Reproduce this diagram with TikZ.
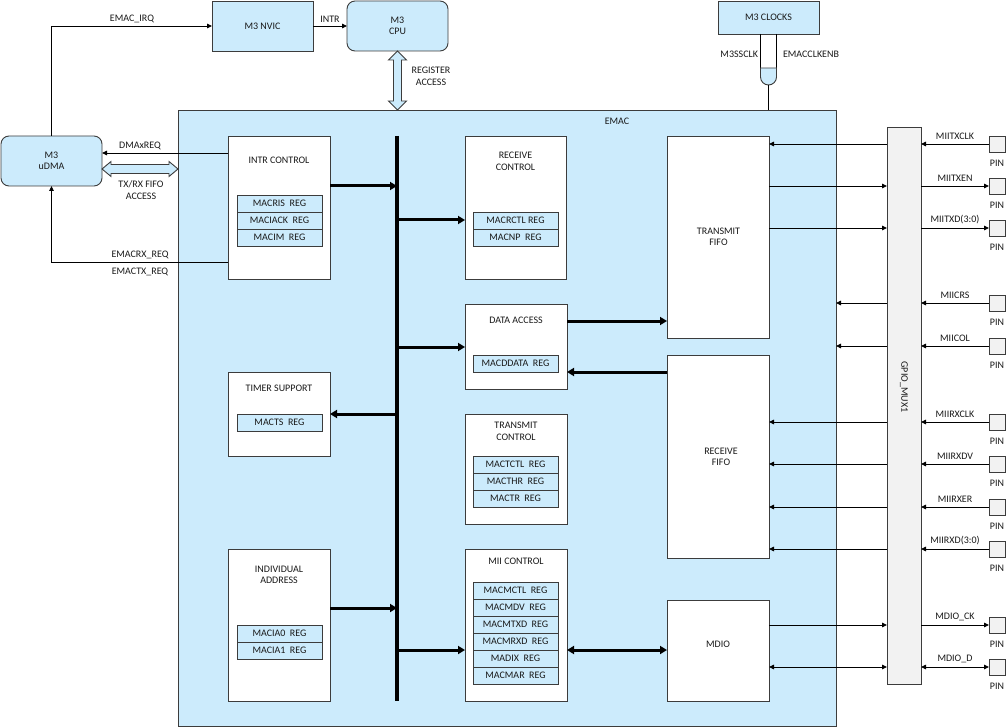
\documentclass[tikz,border=0pt]{standalone}
\usepackage{fontspec}
\setmainfont{Carlito}
\usetikzlibrary{arrows.meta,calc}
\definecolor{lb}{RGB}{204,235,252}
\definecolor{ln}{RGB}{60,60,60}
\definecolor{gr}{RGB}{242,242,242}
\begin{document}
\begin{tikzpicture}[x=1pt,y=-1pt,
  every node/.style={font=\fontsize{10}{11.5}\selectfont, inner sep=0pt, outer sep=0pt, align=center, text=black!90},
  box/.style={draw=ln, line width=0.9pt, fill=white},
  bbox/.style={draw=ln, line width=0.9pt, fill=lb},
  rbox/.style={draw=ln, line width=0.9pt, fill=lb, rounded corners=8pt},
  reg/.style={draw=ln, line width=0.9pt, fill=lb, minimum width=85, minimum height=17},
  pinbox/.style={draw=ln, line width=0.9pt, fill=gr, minimum width=16, minimum height=16},
  thk/.style={draw=black, line width=3pt, -{Triangle[length=7pt,width=8pt]}},
  thkd/.style={draw=black, line width=3pt, {Triangle[length=7pt,width=8pt]}-{Triangle[length=7pt,width=8pt]}},
  thn/.style={draw=black, line width=0.9pt, -{Triangle[length=5pt,width=4.5pt]}},
  thnd/.style={draw=black, line width=0.9pt, {Triangle[length=5pt,width=4.5pt]}-{Triangle[length=5pt,width=4.5pt]}},
  plain/.style={draw=black, line width=0.9pt},
  hol/.style={draw=ln, line width=0.9pt, fill=lb, line join=miter}
]
\useasboundingbox (0,0) rectangle (1006,727);

% outer blocks
\node[bbox, minimum width=101, minimum height=50] (nvic) at (262.5,26) {M3 NVIC};
\node[rbox, minimum width=101, minimum height=50] (cpu) at (397.5,26) {M3\\CPU};
\node[rbox, minimum width=101, minimum height=50] (udma) at (51.5,161) {M3\\uDMA};
\node[bbox, minimum width=101, minimum height=33] (clocks) at (768.5,17.5) {M3 CLOCKS};
\node[bbox, minimum width=658, minimum height=616] (emac) at (507,418) {};
\node (emaclbl) at (617,121) {EMAC};

% inner modules
\node[box, minimum width=102, minimum height=143] (intr) at (279,207.5) {};
\node (intrlbl) at (279,160) {INTR CONTROL};
\node[reg] (r1) at (279.5,203.5) {MACRIS~ REG};
\node[reg] (r2) at (279.5,220.5) {MACIACK~ REG};
\node[reg] (r3) at (279.5,237.5) {MACIM~ REG};

\node[box, minimum width=102, minimum height=84] (timer) at (279,414) {};
\node (timerlbl) at (279,388) {TIMER SUPPORT};
\node[reg] (r4) at (279.5,422.5) {MACTS~ REG};

\node[box, minimum width=102, minimum height=152] (indiv) at (279,625) {};
\node (indivlbl) at (279,575) {INDIVIDUAL\\ADDRESS};
\node[reg] (r5) at (279.5,633.5) {MACIA0~ REG};
\node[reg] (r6) at (279.5,650.5) {MACIA1~ REG};

\node[box, minimum width=101, minimum height=143] (rxctl) at (515.5,207.5) {};
\node (rxctllbl) at (515.5,161.5) {RECEIVE\\CONTROL};
\node[reg] (r7) at (515.5,220.5) {MACRCTL REG};
\node[reg] (r8) at (515.5,237.5) {MACNP~ REG};

\node[box, minimum width=102, minimum height=85] (dacc) at (516,346.5) {};
\node (dacclbl) at (516,320) {DATA ACCESS};
\node[reg] (r9) at (515.5,363.5) {MACDDATA~ REG};

\node[box, minimum width=102, minimum height=110] (txctl) at (516,469) {};
\node (txctllbl) at (516,431.5) {TRANSMIT\\CONTROL};
\node[reg] (r10) at (515.5,464.5) {MACTCTL~ REG};
\node[reg] (r11) at (515.5,481.5) {MACTHR~ REG};
\node[reg] (r12) at (515.5,498.5) {MACTR~ REG};

\node[box, minimum width=102, minimum height=152] (mii) at (516,625) {};
\node (miilbl) at (516,561) {MII CONTROL};
\node[reg] (r13) at (515.5,590.5) {MACMCTL~ REG};
\node[reg] (r14) at (515.5,607.5) {MACMDV~ REG};
\node[reg] (r15) at (515.5,624.5) {MACMTXD~ REG};
\node[reg] (r16) at (515.5,641.5) {MACMRXD~ REG};
\node[reg] (r17) at (515.5,658.5) {MADIX~ REG};
\node[reg] (r18) at (515.5,675.5) {MACMAR~ REG};

\node[box, minimum width=102, minimum height=202] (txfifo) at (718,237) {};
\node (txfifolbl) at (718.5,237) {TRANSMIT\\FIFO};
\node[box, minimum width=102, minimum height=203] (rxfifo) at (718,456.5) {};
\node (rxfifolbl) at (721,457) {RECEIVE\\FIFO};
\node[box, minimum width=102, minimum height=101] (mdio) at (718,650.5) {};
\node (mdiolbl) at (718,644) {MDIO};

% GPIO mux
\node[draw=ln, line width=0.9pt, fill=gr, minimum width=34, minimum height=557] (mux) at (904,405.5) {};
\node[rotate=-90] (muxlbl) at (904,387) {GPIO\_MUX1};

% bus
\coordinate (bustop) at (397,136);
\coordinate (busbot) at (397,701);
\draw[line width=3.5pt] (bustop) -- (busbot);

% thick arrows
\draw[thk] (intr.east |- 0,186) -- (bustop |- 0,186);
\draw[thk] (bustop |- 0,220) -- (rxctl.west |- 0,220);
\draw[thk] (bustop |- 0,347) -- (dacc.west |- 0,347);
\draw[thk] (bustop |- 0,414) -- (timer.east |- 0,414);
\draw[thk] (indiv.east |- 0,608) -- (bustop |- 0,608);
\draw[thk] (bustop |- 0,650) -- (mii.west |- 0,650);
\draw[thk] (dacc.east |- 0,321) -- (txfifo.west |- 0,321);
\draw[thk] (rxfifo.west |- 0,372) -- (dacc.east |- 0,372);
\draw[thkd] (mii.east |- 0,650) -- (mdio.west |- 0,650);

% top connections
\draw[thn] (udma.north) |- (nvic.west);
\node (irqlbl) at (132,19) {EMAC\_IRQ};
\draw[thn] (nvic.east) -- (cpu.west);
\node (intrsig) at (330,19) {INTR};

% register access hollow double arrow
\coordinate (ra1) at (cpu.south);
\coordinate (ra2) at (cpu.south |- emac.north);
\draw[hol] (ra1) -- ++(9,9) -- ++(-5,0) -- ($(ra2)+(4,-9)$) -- ++(5,0) -- (ra2)
  -- ++(-9,-9) -- ++(5,0) -- ($(ra1)+(-4,9)$) -- ++(-5,0) -- cycle;
\node (ralbl) at (431,76.5) {REGISTER\\ACCESS};

% uDMA connections
\draw[thn] (intr.west |- 0,153) -- (udma.east |- 0,153);
\node (dmalbl) at (140,146) {DMAxREQ};
\coordinate (fa1) at (udma.east |- 0,169);
\coordinate (fa2) at (emac.west |- 0,169);
\draw[hol] (fa1) -- ++(9,-7.5) -- ++(0,3) -- ($(fa2)+(-9,-4.5)$) -- ++(0,-3) -- (fa2)
  -- ++(-9,7.5) -- ++(0,-3) -- ($(fa1)+(9,4.5)$) -- ++(0,3) -- cycle;
\node (falbl) at (141,190) {TX/RX FIFO\\ACCESS};
\draw[thn] (intr.west |- 0,262) -| (udma.south);
\node (rxreq) at (140,255) {EMACRX\_REQ};
\node (txreq) at (140,272) {EMACTX\_REQ};

% clocks gate
\draw[plain] ($(clocks.south)+(-8,0)$) -- ++(0,34);
\draw[plain] ($(clocks.south)+(8,0)$) -- ++(0,34);
\draw[draw=ln, line width=0.9pt, fill=lb] (760.5,68) -- (776.5,68) -- (776.5,77)
  .. controls (776.5,81.4) and (772.9,85) .. (768.5,85)
  .. controls (764.1,85) and (760.5,81.4) .. (760.5,77) -- cycle;
\coordinate (gout) at (768.5,85);
\draw[plain] (gout) -- (clocks.south |- emac.north);
\node[anchor=east] (sclk) at (758,54) {M3SSCLK};
\node[anchor=west] (cken) at (783,54) {EMACCLKENB};

% pins
\foreach \n/\y/\t in {1/144/MIITXCLK, 2/186/MIITXEN, 3/228/MIITXD(3:0), 4/303/MIICRS, 5/346/MIICOL,
  6/422/MIIRXCLK, 7/464/MIIRXDV, 8/507/MIIRXER, 9/549/MIIRXD(3:0), 10/625/MDIO\_CK, 11/667/MDIO\_D}{
  \node[pinbox] (p\n) at (997,\y) {};
  \node (pl\n) at (997,\y+19) {PIN};
  \node (sl\n) at (955,\y-8) {\t};
}

% pin -> mux (inputs)
\foreach \n in {1,4,5,6,7,8,9}{ \draw[thn] (p\n.west) -- (mux.east |- p\n); }
% mux -> pin (outputs)
\foreach \n in {2,3,10}{ \draw[thn] (mux.east |- p\n) -- (p\n.west); }
\draw[thnd] (mux.east |- p11) -- (p11.west);

% mux <-> EMAC blocks
\draw[thn] (mux.west |- p1) -- (txfifo.east |- p1);
\draw[thn] (txfifo.east |- p2) -- (mux.west |- p2);
\draw[thn] (txfifo.east |- p3) -- (mux.west |- p3);
\draw[thn] (mux.west |- p4) -- (emac.east |- p4);
\draw[thn] (mux.west |- p5) -- (emac.east |- p5);
\foreach \n in {6,7,8,9}{ \draw[thn] (mux.west |- p\n) -- (rxfifo.east |- p\n); }
\draw[thn] (mdio.east |- p10) -- (mux.west |- p10);
\draw[thnd] (mdio.east |- p11) -- (mux.west |- p11);
\end{tikzpicture}
\end{document}
